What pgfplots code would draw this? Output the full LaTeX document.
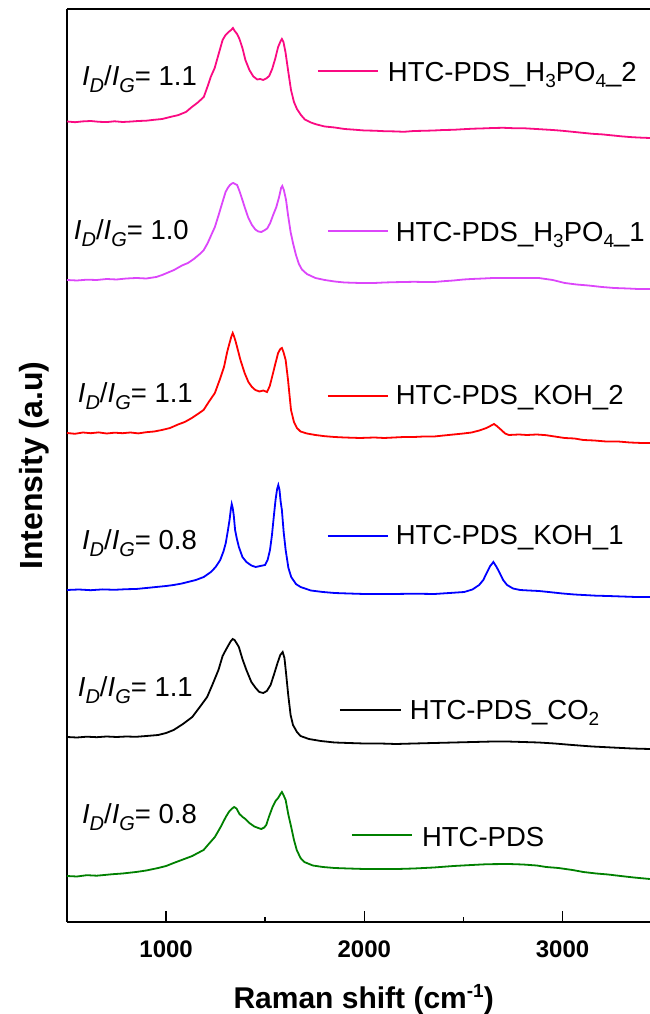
\documentclass[border=0pt]{standalone}
\usepackage{fontspec}
\setmainfont{Liberation Sans}
\usepackage{pgfplots}
\pgfplotsset{compat=1.18}
\definecolor{cpink}{RGB}{250,10,130}
\definecolor{cmag}{RGB}{220,70,250}
\definecolor{cred}{RGB}{255,0,0}
\definecolor{cblue}{RGB}{0,0,255}
\definecolor{cgreen}{RGB}{0,128,0}
\newcommand\lab{\fontsize{27.5}{30}\selectfont}
\newcommand\sub[1]{\raisebox{-7pt}{\fontsize{20}{20}\selectfont #1}}
\newcommand\ssub[1]{\raisebox{-6pt}{\fontsize{19}{19}\selectfont #1}}
\newcommand\ratio[1]{{\itshape I}\sub{\itshape D}/{\itshape I}\sub{\itshape G}= #1}
\begin{document}
\begin{tikzpicture}
\begin{axis}[
 scale only axis, width=582.8pt, height=913pt,
 xmin=500, xmax=3440, ymin=78, ymax=991,
 axis x line*=bottom, axis y line*=left,
 axis line style={line width=2pt},
 tick align=inside,
 xtick={1000,2000,3000}, minor xtick={1500,2500},
 ytick=\empty, minor ytick={143,322,501,680,859},
 major tick length=11pt, minor tick length=5pt,
 every tick/.style={line width=1.5pt, black},
 xticklabel style={font=\bfseries\fontsize{24}{24}\selectfont, anchor=base, yshift=-35pt},
 /pgf/number format/assume math mode=true,
 /pgf/number format/1000 sep={},
 xlabel={Raman shift (cm\raisebox{11pt}{\fontsize{19}{19}\selectfont -1})},
 xlabel style={font=\bfseries\fontsize{30}{30}\selectfont, at={(axis description cs:0.509,-0.0942)}, anchor=base},
 ylabel={Intensity (a.u)},
 ylabel style={font=\bfseries\fontsize{32}{32}\selectfont, at={(axis description cs:-0.0412,0.5)}, anchor=base, rotate=0},
 every axis plot/.append style={line width=1.8pt},
]
\coordinate (bl) at (rel axis cs:0,0);
\coordinate (tr) at (rel axis cs:1,1);
\draw[line width=2pt] (rel axis cs:0,1) -- (rel axis cs:1,1);

% HTC-PDS_H3PO4_2
\addplot[cpink] coordinates {
(500,878.5)(540,877.8)(580,878.6)(620,879.0)(660,878.2)(700,877.9)(740,878.7)(780,878.0)(820,878.4)(860,879.0)
(900,879.3)(940,880.2)(980,881.0)(1020,883.0)(1060,884.8)(1100,888.0)(1130,893.0)(1160,897.5)(1190,903.0)(1210,914.0)
(1225,923.0)(1245,932.0)(1265,946.0)(1285,960.0)(1300,965.0)(1315,968.0)(1328,970.0)(1337,972.0)(1346,969.0)(1358,966.0)
(1370,961.0)(1385,952.0)(1400,940.0)(1420,930.0)(1440,923.5)(1460,920.5)(1475,921.0)(1490,920.0)(1505,921.5)(1520,924.0)
(1535,931.0)(1550,941.0)(1565,953.0)(1578,959.0)(1584,961.0)(1592,958.0)(1602,948.0)(1615,930.0)(1630,910.0)(1645,898.0)
(1660,891.0)(1680,885.0)(1700,880.5)(1730,877.5)(1760,875.5)(1800,873.5)(1850,872.5)(1900,871.0)(1950,870.3)(2000,869.5)
(2050,869.3)(2100,868.8)(2150,868.6)(2200,868.2)(2250,869.0)(2300,869.2)(2350,869.5)(2400,870.0)(2450,870.2)(2500,870.8)
(2550,871.3)(2600,871.6)(2650,872.0)(2700,872.2)(2750,871.8)(2800,871.8)(2850,871.2)(2900,870.6)(2950,870.0)(3000,869.2)
(3050,868.2)(3100,867.2)(3150,866.2)(3200,865.6)(3250,864.6)(3300,863.6)(3350,862.8)(3400,862.3)(3440,862.0)
};
% HTC-PDS_H3PO4_1
\addplot[cmag] coordinates {
(500,720.0)(550,719.5)(600,720.3)(650,720.0)(700,721.0)(750,720.5)(800,721.5)(850,722.0)(900,721.5)(950,723.0)
(980,725.0)(1010,727.5)(1040,730.0)(1080,734.5)(1110,737.0)(1140,741.0)(1170,746.0)(1190,750.0)(1210,757.0)(1230,766.0)
(1246,773.0)(1265,785.0)(1283,797.0)(1300,808.0)(1311,812.0)(1322,815.0)(1332,816.5)(1339,817.0)(1348,816.0)(1358,815.0)
(1370,809.0)(1385,800.0)(1396,793.0)(1415,782.0)(1433,775.0)(1450,770.5)(1465,768.5)(1480,768.0)(1495,769.5)(1510,771.5)
(1525,777.0)(1540,785.0)(1556,793.0)(1570,803.0)(1580,812.0)(1586,814.0)(1594,810.0)(1605,800.0)(1615,785.0)(1628,768.0)
(1640,757.0)(1655,745.0)(1670,736.0)(1685,730.5)(1710,726.0)(1753,722.0)(1800,720.0)(1850,718.5)(1900,717.5)(1978,717.0)
(2050,717.0)(2100,717.5)(2150,717.8)(2200,718.0)(2250,718.2)(2300,718.0)(2353,718.0)(2400,718.8)(2450,719.5)(2500,720.5)
(2541,721.0)(2600,721.5)(2650,722.0)(2729,722.0)(2800,722.0)(2880,722.0)(2950,720.0)(3011,717.0)(3070,715.5)(3130,714.5)
(3199,713.0)(3260,712.0)(3330,711.5)(3380,711.0)(3440,711.0)
};
% HTC-PDS_KOH_2
\addplot[cred] coordinates {
(500,567.0)(540,566.2)(580,567.5)(620,566.8)(660,567.6)(700,566.5)(740,567.3)(780,566.8)(820,567.5)(860,566.6)
(900,567.8)(940,568.5)(979,570.0)(1020,572.0)(1060,575.5)(1094,578.0)(1130,582.0)(1160,586.0)(1189,590.0)(1215,598.0)
(1246,607.0)(1270,620.0)(1292,633.0)(1308,648.0)(1320,657.0)(1330,664.0)(1336,667.0)(1342,664.0)(1350,659.0)(1358,653.0)
(1375,640.0)(1396,627.0)(1415,618.0)(1433,613.0)(1450,610.0)(1471,608.5)(1490,609.5)(1509,608.0)(1523,614.0)(1537,625.0)
(1552,637.0)(1565,647.0)(1576,651.0)(1584,652.0)(1592,648.0)(1603,640.0)(1615,620.0)(1630,590.0)(1645,578.0)(1660,572.0)
(1678,568.5)(1710,566.5)(1753,565.0)(1800,563.8)(1850,563.0)(1900,562.5)(1978,562.0)(2050,562.5)(2100,562.0)(2150,562.5)
(2200,563.0)(2250,563.0)(2300,563.5)(2353,563.5)(2400,564.5)(2450,565.5)(2500,566.5)(2541,567.5)(2580,569.5)(2616,572.0)
(2640,574.5)(2654,576.0)(2668,574.0)(2691,570.0)(2710,566.5)(2729,565.0)(2780,565.5)(2820,565.0)(2870,565.5)(2917,564.8)
(2960,563.5)(3010,562.0)(3060,561.5)(3105,560.0)(3160,559.5)(3220,558.5)(3280,558.5)(3340,557.5)(3400,557.0)(3440,557.0)
};
% HTC-PDS_KOH_1
\addplot[cblue] coordinates {
(500,410.0)(560,410.5)(620,409.8)(680,410.6)(740,410.2)(800,410.8)(848,411.0)(900,412.0)(950,413.0)(1000,414.0)
(1038,415.0)(1080,416.5)(1120,418.5)(1150,420.0)(1190,423.0)(1226,428.0)(1250,433.0)(1273,440.0)(1290,449.0)(1301,457.0)
(1312,470.0)(1320,480.0)(1326,490.0)(1331,496.0)(1336,492.0)(1341,485.0)(1348,470.0)(1356,462.0)(1367,453.0)(1385,443.0)
(1405,438.0)(1430,434.5)(1452,433.0)(1475,434.0)(1499,435.0)(1512,440.0)(1524,450.0)(1534,465.0)(1543,483.0)(1552,500.0)
(1560,511.0)(1566,515.0)(1572,510.0)(1578,498.0)(1584,490.0)(1593,468.0)(1603,450.0)(1617,432.0)(1631,423.0)(1655,416.0)
(1678,413.0)(1730,409.5)(1791,408.0)(1850,407.0)(1920,406.5)(2000,406.0)(2075,406.0)(2150,406.0)(2250,406.3)(2353,406.0)
(2430,407.0)(2504,408.0)(2545,410.5)(2579,415.0)(2600,420.0)(2617,427.0)(2635,434.0)(2651,438.0)(2667,433.0)(2683,427.0)
(2700,420.0)(2720,415.0)(2750,411.5)(2786,410.0)(2830,409.5)(2880,409.0)(2930,408.0)(3000,406.5)(3060,405.5)(3105,405.0)
(3170,404.3)(3230,404.0)(3300,403.5)(3370,403.0)(3440,403.0)
};
% HTC-PDS_CO2
\addplot[black] coordinates {
(500,263.0)(550,262.5)(600,263.3)(650,262.8)(700,263.5)(750,263.0)(800,263.5)(848,263.2)(900,264.0)(960,265.0)
(1000,267.0)(1038,270.0)(1085,276.0)(1132,283.0)(1170,293.0)(1207,303.0)(1235,316.0)(1264,330.0)(1285,344.0)(1301,350.0)
(1315,355.0)(1327,359.0)(1336,361.0)(1345,360.0)(1355,357.0)(1367,353.0)(1385,341.0)(1405,330.0)(1430,318.0)(1452,312.0)
(1470,308.0)(1490,307.0)(1508,309.0)(1527,315.0)(1545,326.0)(1562,337.0)(1576,345.0)(1588,348.0)(1597,342.0)(1606,325.0)
(1616,305.0)(1628,285.0)(1640,275.0)(1660,268.0)(1678,264.0)(1720,261.0)(1780,259.0)(1850,257.5)(1920,257.0)(2000,256.5)
(2080,256.5)(2160,256.0)(2250,256.5)(2350,257.0)(2450,257.5)(2550,258.0)(2650,258.5)(2720,258.5)(2800,258.0)(2880,257.5)
(2960,256.5)(3050,255.0)(3150,253.5)(3250,252.5)(3350,251.5)(3440,251.0)
};
% HTC-PDS
\addplot[cgreen] coordinates {
(500,124.0)(550,123.5)(600,124.8)(650,124.3)(688,125.0)(730,125.8)(780,126.5)(848,128.0)(900,129.5)(960,132.0)
(1000,134.0)(1038,137.0)(1085,140.5)(1132,144.0)(1160,147.0)(1189,150.0)(1215,156.0)(1246,163.0)(1275,173.0)(1301,183.0)
(1318,188.5)(1330,191.0)(1343,193.0)(1355,191.5)(1370,186.0)(1386,183.0)(1400,181.0)(1420,177.0)(1445,173.5)(1465,172.0)
(1480,171.0)(1495,172.5)(1505,175.0)(1520,184.0)(1537,193.0)(1552,199.0)(1565,202.0)(1577,206.0)(1584,208.0)(1592,205.0)
(1603,200.0)(1617,185.0)(1631,173.0)(1645,160.0)(1659,150.0)(1678,142.0)(1697,138.0)(1740,134.5)(1791,133.0)(1850,132.0)
(1920,131.5)(2000,131.0)(2080,131.0)(2166,131.0)(2250,131.5)(2350,132.5)(2450,134.0)(2541,135.0)(2620,135.8)(2729,136.0)
(2800,135.5)(2870,134.5)(2917,133.0)(2980,132.0)(3050,130.0)(3105,128.0)(3170,126.5)(3230,125.5)(3293,124.0)(3360,122.5)
(3440,121.0)
};

% ratio labels
\node[anchor=base west, inner sep=0pt] at (axis cs:575,914) {\lab\ratio{1.1}};
\node[anchor=base west, inner sep=0pt] at (axis cs:534,760) {\lab\ratio{1.0}};
\node[anchor=base west, inner sep=0pt] at (axis cs:554,597) {\lab\ratio{1.1}};
\node[anchor=base west, inner sep=0pt] at (axis cs:575,450) {\lab\ratio{0.8}};
\node[anchor=base west, inner sep=0pt] at (axis cs:554,303) {\lab\ratio{1.1}};
\node[anchor=base west, inner sep=0pt] at (axis cs:575,177) {\lab\ratio{0.8}};

% legend entries
\draw[cpink, line width=1.8pt] (axis cs:1766,929) -- (axis cs:2069,929);
\node[anchor=base west, inner sep=0pt] at (axis cs:2118,918) {\lab HTC-PDS\_H\ssub{3}PO\ssub{4}\_2};
\draw[cmag, line width=1.8pt] (axis cs:1816,769) -- (axis cs:2118,769);
\node[anchor=base west, inner sep=0pt] at (axis cs:2158,758) {\lab HTC-PDS\_H\ssub{3}PO\ssub{4}\_1};
\draw[cred, line width=1.8pt] (axis cs:1816,604) -- (axis cs:2118,604);
\node[anchor=base west, inner sep=0pt] at (axis cs:2158,595) {\lab HTC-PDS\_KOH\_2};
\draw[cblue, line width=1.8pt] (axis cs:1816,464) -- (axis cs:2118,464);
\node[anchor=base west, inner sep=0pt] at (axis cs:2158,455) {\lab HTC-PDS\_KOH\_1};
\draw[black, line width=1.8pt] (axis cs:1876,290) -- (axis cs:2184,290);
\node[anchor=base west, inner sep=0pt] at (axis cs:2229,280) {\lab HTC-PDS\_CO\ssub{2}};
\draw[cgreen, line width=1.8pt] (axis cs:1937,165) -- (axis cs:2240,165);
\node[anchor=base west, inner sep=0pt] at (axis cs:2290,153) {\lab HTC-PDS};
\end{axis}
\pgfresetboundingbox
\path ([xshift=-67pt,yshift=-92pt]bl) rectangle ([yshift=9pt]tr);
\end{tikzpicture}
\end{document}
